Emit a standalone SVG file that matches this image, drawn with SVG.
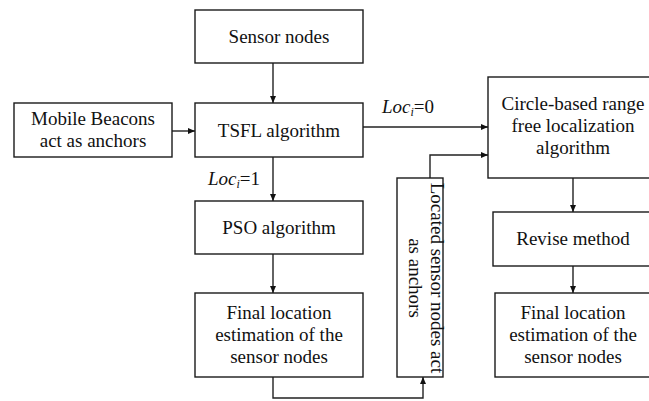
<svg xmlns="http://www.w3.org/2000/svg" width="649" height="401" viewBox="0 0 649 401">
<defs>
<style>
.box{fill:#fff;stroke:#1a1a1a;stroke-width:1.4}
.t{font-family:"Liberation Serif","Times New Roman",serif;font-size:19px;fill:#111;text-anchor:middle}
.lab{font-family:"Liberation Serif","Times New Roman",serif;font-size:19px;fill:#111}
.c{fill:none;stroke:#222;stroke-width:1.4}
</style>
<marker id="ah" markerUnits="userSpaceOnUse" markerWidth="8" markerHeight="7" refX="7" refY="3" orient="auto">
<path d="M0,0 L7,3 L0,6 z" fill="#111"/>
</marker>
</defs>
<rect width="649" height="401" fill="#fff"/>
<g id="connectors">
<line class="c" x1="273" y1="63" x2="273" y2="103" marker-end="url(#ah)"/>
<line class="c" x1="172" y1="131" x2="195" y2="131" marker-end="url(#ah)"/>
<line class="c" x1="273" y1="157" x2="273" y2="201" marker-end="url(#ah)"/>
<line class="c" x1="273" y1="254" x2="273" y2="293" marker-end="url(#ah)"/>
<line class="c" x1="362" y1="127" x2="488" y2="127" marker-end="url(#ah)"/>
<path class="c" d="M273,377 V398 H423 V377" marker-end="url(#ah)"/>
<path class="c" d="M430,178 V155 H488" marker-end="url(#ah)"/>
<line class="c" x1="573" y1="178" x2="573" y2="212" marker-end="url(#ah)"/>
<line class="c" x1="573" y1="266" x2="573" y2="293" marker-end="url(#ah)"/>
<text class="lab" x="208" y="185"><tspan font-style="italic">Loc</tspan><tspan font-style="italic" font-size="12" dy="3">i</tspan><tspan dy="-3">=1</tspan></text>
<text class="lab" x="382" y="113"><tspan font-style="italic">Loc</tspan><tspan font-style="italic" font-size="12" dy="3">i</tspan><tspan dy="-3">=0</tspan></text>
</g>
<g id="sensor-nodes">
<rect class="box" x="195" y="10" width="168" height="53"/>
<text class="t" x="279" y="43">Sensor nodes</text>
</g>
<g id="mobile-beacons">
<rect class="box" x="14" y="103" width="158" height="54"/>
<text class="t" x="93" y="125">Mobile Beacons</text>
<text class="t" x="93" y="147">act as anchors</text>
</g>
<g id="tsfl">
<rect class="box" x="195" y="103" width="168" height="54"/>
<text class="t" x="279" y="137">TSFL algorithm</text>
</g>
<g id="pso">
<rect class="box" x="195" y="201" width="168" height="53"/>
<text class="t" x="279" y="234">PSO algorithm</text>
</g>
<g id="final-left">
<rect class="box" x="195" y="293" width="168" height="84"/>
<text class="t" x="279" y="319">Final location</text>
<text class="t" x="279" y="341">estimation of the</text>
<text class="t" x="279" y="363">sensor nodes</text>
</g>
<g id="located">
<rect class="box" x="397" y="178" width="46" height="199"/>
<text class="t" transform="translate(431,278) rotate(90)">Located sensor nodes act</text>
<text class="t" transform="translate(409,278) rotate(90)">as anchors</text>
</g>
<g id="circle-based">
<rect class="box" x="488" y="77" width="170" height="101"/>
<text class="t" x="573" y="110">Circle-based range</text>
<text class="t" x="573" y="132">free localization</text>
<text class="t" x="573" y="154">algorithm</text>
</g>
<g id="revise">
<rect class="box" x="493" y="212" width="162" height="54"/>
<text class="t" x="573" y="245">Revise method</text>
</g>
<g id="final-right">
<rect class="box" x="495" y="293" width="160" height="84"/>
<text class="t" x="573" y="319">Final location</text>
<text class="t" x="573" y="341">estimation of the</text>
<text class="t" x="573" y="363">sensor nodes</text>
</g>
</svg>
